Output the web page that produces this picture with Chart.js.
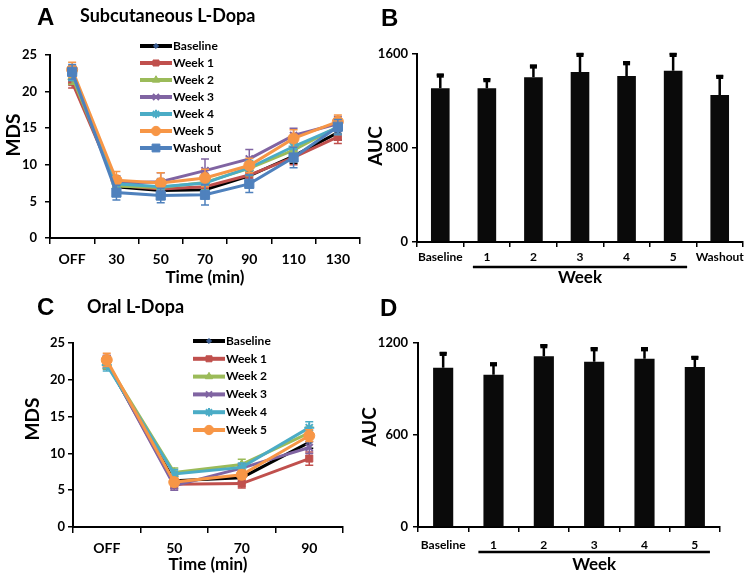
<!DOCTYPE html>
<html>
<head>
<meta charset="utf-8">
<script src="https://cdn.jsdelivr.net/npm/chart.js@4.4.0/dist/chart.umd.min.js"></script>
<style>
body { margin: 0; background: #fff; }
#wrap { position: relative; width: 754px; height: 581px; overflow: hidden; }
.box { position: absolute; }
.lbl { position: absolute; font-weight: bold; color: #000; white-space: nowrap; line-height: 1; font-family: Lato, "Open Sans", sans-serif; }
.letter { font-family: "Liberation Sans", Arial, sans-serif; font-size: 24px; }
</style>
</head>
<body>
<div id="wrap">
  <div class="box" style="left:0;top:0"><canvas id="chartA" width="377" height="290"></canvas></div>
  <div class="box" style="left:360px;top:0"><canvas id="chartB" width="394" height="290"></canvas></div>
  <div class="box" style="left:0;top:290px"><canvas id="chartC" width="377" height="291"></canvas></div>
  <div class="box" style="left:360px;top:290px"><canvas id="chartD" width="394" height="291"></canvas></div>

  <div class="lbl letter" style="left:37px;top:5px">A</div>
  <div class="lbl" style="left:80px;top:6px;font-size:18px">Subcutaneous L-Dopa</div>
  <div class="lbl letter" style="left:381px;top:6px">B</div>
  <div class="lbl letter" style="left:37px;top:295px">C</div>
  <div class="lbl" style="left:87px;top:297px;font-size:18px">Oral L-Dopa</div>
  <div class="lbl letter" style="left:380px;top:296px">D</div>
</div>

<script>
// panel A - subcutaneous
var timeLabelsA = ["OFF", "30", "50", "70", "90", "110", "130"];
var seriesNamesA = ["Baseline", "Week 1", "Week 2", "Week 3", "Week 4", "Week 5", "Washout"];
var baselineA = [22.0, 7.0, 6.5, 6.6, 8.5, 11.2, 14.4];
var week1A = [21.3, 7.2, 6.7, 7.0, 8.6, 11.0, 13.8];
var week2A = [22.0, 7.1, 6.9, 7.6, 9.5, 12.0, 15.2];
var week3A = [22.5, 7.5, 7.7, 9.2, 10.8, 14.0, 15.6];
var week4A = [22.5, 7.4, 7.0, 7.5, 9.6, 12.5, 15.1];
var week5A = [23.0, 7.9, 7.5, 8.2, 9.9, 13.6, 15.9];
var washoutA = [22.7, 6.2, 5.8, 5.9, 7.4, 11.0, 15.2];
var baselineErrA = [1.0, 0.8, 0.9, 1.0, 1.0, 1.0, 1.0];
var week1ErrA = [0.8, 0.9, 1.0, 1.0, 1.0, 1.0, 0.9];
var week2ErrA = [1.0, 0.9, 1.0, 1.0, 1.0, 1.0, 1.0];
var week3ErrA = [1.0, 1.0, 1.2, 1.6, 1.3, 1.0, 1.0];
var week4ErrA = [1.0, 1.0, 1.0, 1.0, 1.0, 1.0, 1.0];
var week5ErrA = [1.0, 1.2, 1.4, 1.2, 1.0, 1.2, 0.9];
var washoutErrA = [1.0, 1.0, 1.0, 1.4, 1.2, 1.4, 1.0];

// panel B - AUC subcutaneous
var aucLabelsB = ["Baseline", "1", "2", "3", "4", "5", "Washout"];
var aucB = [1308, 1308, 1402, 1447, 1413, 1458, 1252];
var aucErrB = [116, 77, 99, 153, 116, 142, 161];

// panel C - oral
var timeLabelsC = ["OFF", "50", "70", "90"];
var seriesNamesC = ["Baseline", "Week 1", "Week 2", "Week 3", "Week 4", "Week 5"];
var baselineC = [22.3, 6.3, 6.7, 11.5];
var week1C = [22.5, 5.8, 5.9, 9.3];
var week2C = [22.3, 7.4, 8.5, 12.8];
var week3C = [22.5, 5.6, 8.0, 10.8];
var week4C = [22.0, 7.2, 8.1, 13.5];
var week5C = [22.7, 6.1, 7.1, 12.4];
var baselineErrC = [0.8, 0.6, 0.6, 0.8];
var week1ErrC = [0.8, 0.6, 0.6, 0.9];
var week2ErrC = [0.8, 0.6, 0.7, 0.8];
var week3ErrC = [0.8, 0.6, 0.6, 0.8];
var week4ErrC = [0.8, 0.6, 0.6, 0.8];
var week5ErrC = [0.9, 0.6, 0.6, 0.8];

// panel D - AUC oral
var aucLabelsD = ["Baseline", "1", "2", "3", "4", "5"];
var aucD = [1039, 993, 1113, 1078, 1098, 1043];
var aucErrD = [96, 74, 72, 87, 67, 66];

var FONT = "Lato, 'Open Sans', sans-serif";
Chart.defaults.font.family = FONT;
Chart.defaults.font.weight = "bold";
Chart.defaults.color = "#000";

// excel-ish look for each series
var seriesStyle = [
	{ line: "#000000", mark: "#3d5f94", shape: "rectRot", r: 3 },
	{ line: "#C0504D", mark: "#C0504D", shape: "rect", r: 5 },
	{ line: "#9BBB59", mark: "#9BBB59", shape: "triangle", r: 5 },
	{ line: "#8064A2", mark: "#8064A2", shape: "crossRot", r: 5 },
	{ line: "#4BACC6", mark: "#4BACC6", shape: "star", r: 5 },
	{ line: "#F79646", mark: "#F79646", shape: "circle", r: 5.5 },
	{ line: "#4F81BD", mark: "#4F81BD", shape: "rect", r: 6.5 }
];

function lineSets(names, values, errs) {
	var sets = [];
	for (var i = 0; i < names.length; i++) {
		var st = seriesStyle[i];
		sets.push({
			label: names[i],
			data: values[i],
			errors: errs[i],
			errColor: st.line === "#000000" ? "#000" : st.mark,
			borderColor: st.line,
			backgroundColor: st.mark,
			borderWidth: 3,
			pointStyle: st.shape,
			pointRadius: st.r,
			pointBackgroundColor: st.mark,
			pointBorderColor: st.mark,
			pointBorderWidth: st.shape === "crossRot" || st.shape === "star" ? 2 : 1,
			tension: 0,
			order: names.length - 1 - i
		});
	}
	return sets;
}

var errorBars = {
	id: "errorBars",
	afterDatasetDraw: function(chart, args) {
		var ds = chart.data.datasets[args.index];
		if (!ds.errors) return;
		var ctx = chart.ctx;
		var ys = chart.scales.y;
		var cap = ds.capWidth || 4;
		ctx.save();
		ctx.strokeStyle = ds.errColor || "#000";
		ctx.lineWidth = ds.errWidth || 1.5;
		for (var i = 0; i < ds.data.length; i++) {
			var x = args.meta.data[i].x;
			var top = ys.getPixelForValue(ds.data[i] + ds.errors[i]);
			var bot = ds.upperOnly ? ys.getPixelForValue(ds.data[i]) : ys.getPixelForValue(ds.data[i] - ds.errors[i]);
			ctx.beginPath();
			ctx.moveTo(x, top); ctx.lineTo(x, bot);
			ctx.moveTo(x - cap, top); ctx.lineTo(x + cap, top);
			if (!ds.upperOnly) { ctx.moveTo(x - cap, bot); ctx.lineTo(x + cap, bot); }
			ctx.stroke();
			if (ds.upperOnly) {
				ctx.fillStyle = ds.errColor || "#000";
				ctx.fillRect(x - cap, top - 1, cap * 2, 4);
			}
		}
		ctx.restore();
	}
};

// legend drawn inside the plot, like the excel one
var inlineLegend = {
	id: "inlineLegend",
	afterDraw: function(chart, args, opts) {
		if (!opts || !opts.x0) return;
		var ctx = chart.ctx;
		var sets = chart.data.datasets;
		ctx.save();
		for (var i = 0; i < sets.length; i++) {
			var ds = sets[i];
			var y = opts.y0 + i * opts.dy;
			ctx.strokeStyle = ds.borderColor;
			ctx.lineWidth = 4;
			ctx.beginPath();
			ctx.moveTo(opts.x0, y); ctx.lineTo(opts.x1, y);
			ctx.stroke();
			var mx = (opts.x0 + opts.x1) / 2;
			ctx.fillStyle = ds.pointBackgroundColor;
			ctx.strokeStyle = ds.pointBorderColor;
			ctx.lineWidth = ds.pointBorderWidth;
			if (Chart.helpers && Chart.helpers.drawPoint) {
				Chart.helpers.drawPoint(ctx, { pointStyle: ds.pointStyle, radius: ds.pointRadius * 0.85, rotation: 0, borderWidth: ds.pointBorderWidth }, mx, y);
			}
			ctx.fillStyle = "#000";
			ctx.font = "bold " + opts.size + "px " + FONT;
			ctx.textBaseline = "middle";
			ctx.textAlign = "left";
			ctx.fillText(ds.label, opts.x1 + 1, y);
		}
		ctx.restore();
	}
};

// rotated y axis caption, placed where the figure has it
var yTitle = {
	id: "yTitle",
	afterDraw: function(chart, args, opts) {
		if (!opts || !opts.text) return;
		var ctx = chart.ctx;
		ctx.save();
		ctx.translate(opts.x, opts.y);
		ctx.rotate(-Math.PI / 2);
		ctx.fillStyle = "#000";
		ctx.font = "bold 19px " + FONT;
		ctx.textAlign = "center";
		ctx.textBaseline = "middle";
		ctx.fillText(opts.text, 0, 0);
		ctx.restore();
	}
};

// underline under weeks 1..5 plus the "Week" caption
var weekBar = {
	id: "weekBar",
	afterDraw: function(chart, args, opts) {
		if (!opts || !opts.text) return;
		var xs = chart.scales.x;
		var w = xs.getPixelForValue(1) - xs.getPixelForValue(0);
		var a = xs.getPixelForValue(opts.from) - w * 0.3;
		var b = xs.getPixelForValue(opts.to) + w * 0.3;
		var ctx = chart.ctx;
		ctx.save();
		ctx.strokeStyle = "#000";
		ctx.lineWidth = 2.5;
		ctx.beginPath();
		ctx.moveTo(a, opts.y); ctx.lineTo(b, opts.y);
		ctx.stroke();
		ctx.fillStyle = "#000";
		ctx.font = "bold 17px " + FONT;
		ctx.textAlign = "center";
		ctx.textBaseline = "middle";
		ctx.fillText(opts.text, (a + b) / 2, opts.textY);
		ctx.restore();
	}
};

function catAxis(h, title, tickSize, tl, pad, titlePad) {
	return {
		type: "category",
		offset: true,
		grid: { display: true, offset: true, drawOnChartArea: false, drawTicks: true, tickLength: tl, color: "#000", lineWidth: 1.5 },
		border: { display: true, color: "#000", width: 2 },
		ticks: { color: "#000", font: { size: tickSize, weight: "bold" }, padding: pad, maxRotation: 0, autoSkip: false },
		title: { display: !!title, text: title, color: "#000", font: { size: 17, weight: "bold" }, padding: { top: 0, bottom: titlePad } },
		afterFit: function(s) { s.height = h; }
	};
}

function valAxis(w, max, step, tickSize, pad) {
	return {
		type: "linear",
		min: 0,
		max: max,
		ticks: {
			stepSize: step, color: "#000", font: { size: tickSize, weight: "bold" }, padding: pad,
			callback: function(v) { return String(v); }
		},
		grid: { display: true, drawOnChartArea: false, tickLength: 5, color: "#000", lineWidth: 1.5 },
		border: { display: true, color: "#000", width: 2 },
		afterFit: function(s) { s.width = w; }
	};
}

new Chart(document.getElementById("chartA"), {
	type: "line",
	data: {
		labels: timeLabelsA,
		datasets: lineSets(seriesNamesA,
			[baselineA, week1A, week2A, week3A, week4A, week5A, washoutA],
			[baselineErrA, week1ErrA, week2ErrA, week3ErrA, week4ErrA, week5ErrA, washoutErrA])
	},
	options: {
		responsive: false,
		animation: false,
		layout: { padding: { left: 0, right: 17, top: 55, bottom: 0 } },
		plugins: {
			legend: { display: false },
			tooltip: { enabled: false },
			inlineLegend: { x0: 140, x1: 172, y0: 46, dy: 17, size: 12 },
			yTitle: { text: "MDS", x: 14, y: 135 }
		},
		scales: {
			x: catAxis(52, "Time (min)", 14, 6, 7, 2),
			y: valAxis(50, 25, 5, 13, 8)
		}
	},
	plugins: [errorBars, inlineLegend, yTitle]
});

new Chart(document.getElementById("chartB"), {
	type: "bar",
	data: {
		labels: aucLabelsB,
		datasets: [{
			data: aucB,
			errors: aucErrB,
			upperOnly: true,
			errWidth: 2.5,
			capWidth: 3.5,
			backgroundColor: "#0a0a0a",
			barPercentage: 0.4,
			categoryPercentage: 1
		}]
	},
	options: {
		responsive: false,
		animation: false,
		layout: { padding: { left: 0, right: 11, top: 54, bottom: 0 } },
		plugins: {
			legend: { display: false },
			tooltip: { enabled: false },
			weekBar: { from: 1, to: 5, y: 267, textY: 278, text: "Week" },
			yTitle: { text: "AUC", x: 16, y: 146 }
		},
		scales: {
			x: catAxis(48, "", 12, 5, 3, 0),
			y: valAxis(57, 1600, 800, 13, 4)
		}
	},
	plugins: [errorBars, weekBar, yTitle]
});

new Chart(document.getElementById("chartC"), {
	type: "line",
	data: {
		labels: timeLabelsC,
		datasets: lineSets(seriesNamesC,
			[baselineC, week1C, week2C, week3C, week4C, week5C],
			[baselineErrC, week1ErrC, week2ErrC, week3ErrC, week4ErrC, week5ErrC])
	},
	options: {
		responsive: false,
		animation: false,
		layout: { padding: { left: 0, right: 34, top: 53, bottom: 0 } },
		plugins: {
			legend: { display: false },
			tooltip: { enabled: false },
			inlineLegend: { x0: 193, x1: 225, y0: 51, dy: 17.8, size: 12 },
			yTitle: { text: "MDS", x: 33, y: 129 }
		},
		scales: {
			x: catAxis(54, "Time (min)", 14, 6, 7, 6),
			y: valAxis(73, 25, 5, 13, 3)
		}
	},
	plugins: [errorBars, inlineLegend, yTitle]
});

new Chart(document.getElementById("chartD"), {
	type: "bar",
	data: {
		labels: aucLabelsD,
		datasets: [{
			data: aucD,
			errors: aucErrD,
			upperOnly: true,
			errWidth: 2.5,
			capWidth: 3.5,
			backgroundColor: "#0a0a0a",
			barPercentage: 0.4,
			categoryPercentage: 1
		}]
	},
	options: {
		responsive: false,
		animation: false,
		layout: { padding: { left: 0, right: 34, top: 53, bottom: 0 } },
		plugins: {
			legend: { display: false },
			tooltip: { enabled: false },
			weekBar: { from: 1, to: 5, y: 262, textY: 275, text: "Week" },
			yTitle: { text: "AUC", x: 10, y: 137 }
		},
		scales: {
			x: catAxis(54, "", 12, 5, 6, 0),
			y: valAxis(58, 1200, 600, 13, 5)
		}
	},
	plugins: [errorBars, weekBar, yTitle]
});
</script>
</body>
</html>
